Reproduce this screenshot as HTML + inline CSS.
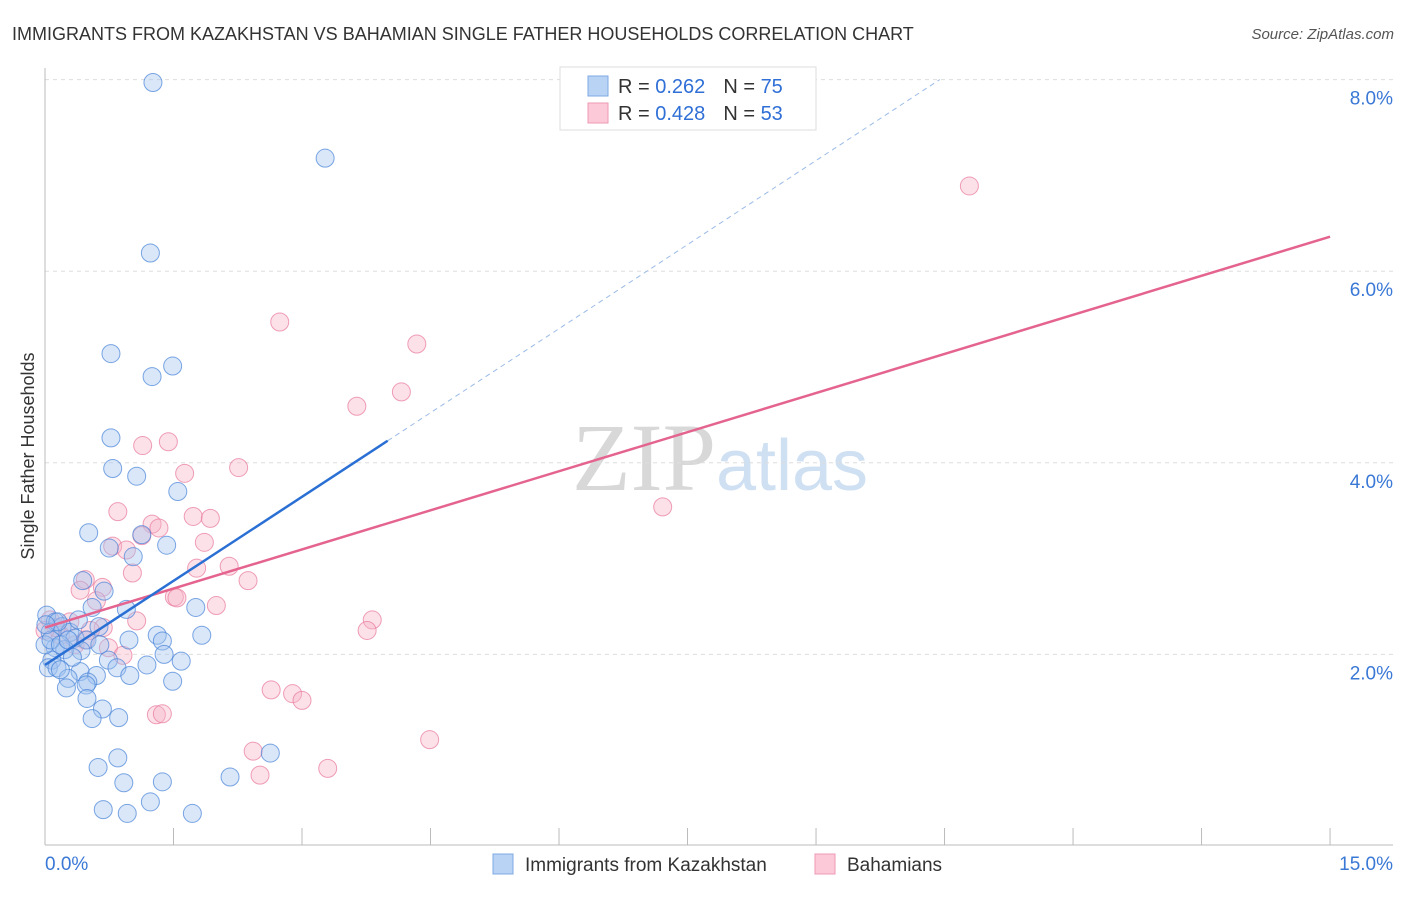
<!DOCTYPE html>
<html><head><meta charset="utf-8"><style>
body{margin:0;background:#fff;font-family:"Liberation Sans",sans-serif;}
svg text{font-family:"Liberation Sans",sans-serif;}
</style></head><body>
<svg id="chart" width="1406" height="892" viewBox="0 0 1406 892" xmlns="http://www.w3.org/2000/svg">
<text x="12" y="40" font-size="18" fill="#333">IMMIGRANTS FROM KAZAKHSTAN VS BAHAMIAN SINGLE FATHER HOUSEHOLDS CORRELATION CHART</text>
<text x="1394" y="39" font-size="15" fill="#555" font-style="italic" text-anchor="end">Source: ZipAtlas.com</text>
<text x="720" y="490" font-size="96" text-anchor="middle" fill="#ddd"><tspan font-family="Liberation Serif" fill="#d8d8d8">ZIP</tspan><tspan fill="#cfe0f3" font-size="72">atlas</tspan></text>
<g id="grid"></g>
<g id="axes"></g>
<g id="pts"></g>
<g id="lines"></g>
<text transform="translate(34,456) rotate(-90)" font-size="18" fill="#333" text-anchor="middle">Single Father Households</text>
<g>
<rect x="560" y="67" width="256" height="63" fill="#fff" stroke="#ddd"/>
<rect x="588" y="76" width="20" height="20" fill="#b9d3f5" stroke="#7ea8e3"/>
<rect x="588" y="103" width="20" height="20" fill="#fbc9d8" stroke="#ef9ab5"/>
<text x="618" y="93" font-size="20" fill="#333">R = <tspan fill="#2f6fd6">0.262</tspan><tspan dx="18">N = </tspan><tspan fill="#2f6fd6">75</tspan></text>
<text x="618" y="120" font-size="20" fill="#333">R = <tspan fill="#2f6fd6">0.428</tspan><tspan dx="18">N = </tspan><tspan fill="#2f6fd6">53</tspan></text>
</g>
<g>
<rect x="493" y="854" width="20" height="20" fill="#b9d3f5" stroke="#7ea8e3"/>
<text x="525" y="871" font-size="19" fill="#333">Immigrants from Kazakhstan</text>
<rect x="815" y="854" width="20" height="20" fill="#fbc9d8" stroke="#ef9ab5"/>
<text x="847" y="871" font-size="19" fill="#333">Bahamians</text>
</g>
</svg>
<script>
const blueX=[1.26,3.27,1.23,0.77,1.49,1.25,0.77,0.79,1.07,1.55,0.51,1.13,0.75,1.42,1.03,0.44,0.69,0.55,0.95,0.02,0.12,0.20,0.63,1.76,0.06,0.29,0.35,0.49,0.98,1.31,1.37,1.83,0.12,0.23,0.42,0.08,0.74,1.39,1.59,0.04,0.14,0.84,1.19,0.41,0.60,0.99,0.27,0.50,0.25,0.48,1.49,0.49,0.67,0.55,0.86,0.85,0.62,2.63,2.16,0.92,1.37,0.68,0.96,1.23,1.72,0.15,0.0,0.07,0.18,0.32,0.01,0.27,0.18,0.64,0.39];
const blueY=[7.97,7.18,6.19,5.14,5.01,4.90,4.26,3.94,3.86,3.70,3.27,3.25,3.11,3.14,3.02,2.77,2.66,2.49,2.47,2.41,2.34,2.29,2.29,2.49,2.23,2.23,2.17,2.15,2.15,2.20,2.14,2.20,2.07,2.05,2.04,1.94,1.94,2.00,1.93,1.86,1.86,1.86,1.89,1.82,1.78,1.78,1.75,1.71,1.65,1.68,1.72,1.54,1.43,1.33,1.34,0.92,0.82,0.97,0.72,0.66,0.67,0.38,0.34,0.46,0.34,2.34,2.10,2.15,2.10,1.97,2.31,2.15,1.84,2.10,2.36];
const pinkX=[10.79,2.74,4.34,4.16,3.64,1.14,1.44,1.63,2.26,0.85,1.73,1.93,1.25,1.33,0.79,1.13,1.86,0.95,1.02,1.77,2.15,2.37,0.47,0.41,0.67,0.60,1.51,1.54,2.00,3.82,3.76,7.21,1.07,0.68,0.29,0.18,0.53,0.74,0.91,2.64,2.89,3.00,4.49,2.43,2.51,3.30,1.30,1.37,0.06,0.13,0.35,0.47,0.0];
const pinkY=[6.89,5.47,5.24,4.74,4.59,4.18,4.22,3.89,3.95,3.49,3.44,3.42,3.36,3.32,3.13,3.24,3.17,3.09,2.85,2.90,2.92,2.77,2.78,2.67,2.70,2.56,2.60,2.59,2.51,2.36,2.25,3.54,2.35,2.28,2.34,2.20,2.25,2.07,1.99,1.63,1.59,1.52,1.11,0.99,0.74,0.81,1.37,1.38,2.36,2.28,2.10,2.15,2.25];
const yTicks=[2,4,6,8];
const yTickLabels=["2.0%","4.0%","6.0%","8.0%"];
const blueTrend=[1.89,0.585];   // intercept, slope
const pinkTrend=[2.28,0.272];
const blueSolidEnd=4.0;
const NS="http://www.w3.org/2000/svg";
const sx=v=>45+v*85.67, sy=v=>846-v*95.8;
function mk(tag,attrs,parent){const e=document.createElementNS(NS,tag);for(const k in attrs)e.setAttribute(k,attrs[k]);parent.appendChild(e);return e;}
const grid=document.getElementById('grid'),axes=document.getElementById('axes'),pts=document.getElementById('pts'),lines=document.getElementById('lines');
yTicks.forEach((t,i)=>{
 const l=mk('line',{x1:45,x2:1393,y1:sy(t),y2:sy(t),stroke:'#ddd','stroke-dasharray':'4,4'},grid);
 
 
 const tx=mk('text',{x:1393,y:sy(t)+25,'font-size':19,fill:'#3a78d6','text-anchor':'end'},axes);
 tx.textContent=yTickLabels[i];
 
 
});
mk('line',{x1:45,x2:45,y1:68,y2:845,stroke:'#bbb'},axes);
mk('line',{x1:45,x2:1393,y1:845,y2:845,stroke:'#bbb'},axes);
for(let i=0;i<=10;i++){const x=sx(i*1.5);const t=mk('line',{x1:x,x2:x,y1:828,y2:845,stroke:'#bbb'},axes);
 
 }
let a=mk('text',{x:45,y:870,'font-size':19,fill:'#3a78d6'},axes);a.textContent='0.0%';


a=mk('text',{x:1393,y:870,'font-size':19,fill:'#3a78d6','text-anchor':'end'},axes);a.textContent='15.0%';


pinkX.forEach((x,i)=>{const c=mk('circle',{cx:sx(x),cy:sy(pinkY[i]),r:9,fill:'rgba(248,180,200,0.4)',stroke:'rgba(232,120,155,0.7)','stroke-width':1},pts);
 
 });
blueX.forEach((x,i)=>{const c=mk('circle',{cx:sx(x),cy:sy(blueY[i]),r:9,fill:'rgba(160,195,240,0.4)',stroke:'rgba(70,130,215,0.7)','stroke-width':1},pts);
 
 });
const bEnd=(8.0-blueTrend[0])/blueTrend[1];
let l=mk('line',{x1:sx(blueSolidEnd),y1:sy(blueTrend[0]+blueTrend[1]*blueSolidEnd),x2:sx(bEnd),y2:sy(8.0),stroke:'#9bbbe6','stroke-width':1,'stroke-dasharray':'5,4'},lines);


l=mk('line',{x1:sx(0),y1:sy(pinkTrend[0]),x2:sx(15),y2:sy(pinkTrend[0]+pinkTrend[1]*15),stroke:'#e4648f','stroke-width':2.5},lines);


l=mk('line',{x1:sx(0),y1:sy(blueTrend[0]),x2:sx(blueSolidEnd),y2:sy(blueTrend[0]+blueTrend[1]*blueSolidEnd),stroke:'#2a6fd4','stroke-width':2.5},lines);


</script>
</body></html>
